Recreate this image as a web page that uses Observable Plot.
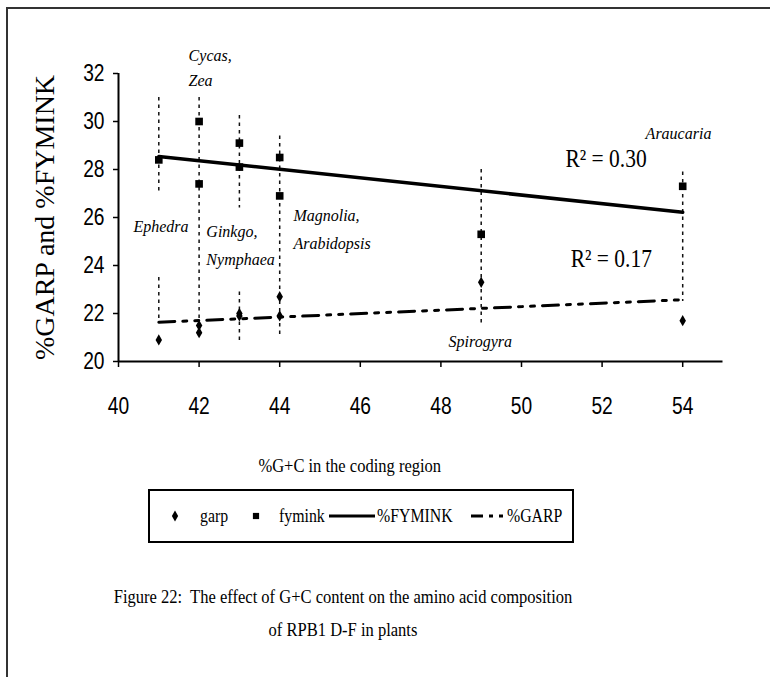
<!DOCTYPE html>
<html>
<head>
<meta charset="utf-8">
<script src="https://cdn.jsdelivr.net/npm/d3@7"></script>
<script src="https://cdn.jsdelivr.net/npm/@observablehq/plot@0.6"></script>
<style>
  body { margin: 0; background: #fff; }
  #page { position: relative; width: 770px; height: 677px; overflow: hidden;
          font-family: "Liberation Serif", "Times New Roman", serif; color: #000; }
  #frame { position: absolute; left: 6px; top: 7px; width: 800px; height: 700px;
           border-left: 2px solid #333; border-top: 2px solid #333; }
  #chart { position: absolute; left: 0; top: 0; }
  #legend { position: absolute; left: 148px; top: 489px; }
  #caption { position: absolute; left: 43px; top: 580px; width: 600px; text-align: center;
             font-size: 19px; line-height: 33px; transform: scaleX(0.87); transform-origin: 300px 0; }
</style>
</head>
<body>
<div id="page">
  <div id="frame"></div>
  <div id="chart"></div>
  <div id="legend"></div>
  <div id="caption">Figure 22:&nbsp; The effect of G+C content on the amino acid composition<br>of RPB1 D-F in plants</div>
</div>
<script>
// %G+C of the coding region for each plant, with the matching amino acid percentages
const species = ["Ephedra", "Cycas", "Zea", "Ginkgo", "Nymphaea", "Magnolia", "Arabidopsis", "Spirogyra", "Araucaria"];
const gc      = [41, 42, 42, 43, 43, 44, 44, 49, 54];
const fymink  = [28.4, 30.0, 27.4, 29.1, 28.1, 28.5, 26.9, 25.3, 27.3];
const garp    = [20.9, 21.5, 21.2, 22.0, 21.9, 22.7, 21.9, 23.3, 21.7];

const xTicks = [40, 42, 44, 46, 48, 50, 52, 54];
const yTicks = [20, 22, 24, 26, 28, 30, 32];

// dashed guides dropped through each G+C value (broken where a name sits)
const guideGC     = [41, 41, 42, 43, 43, 44, 49, 54];
const guideTop    = [31.0, 23.5, 31.0, 30.25, 22.9, 29.4, 28.0, 27.9];
const guideBottom = [27.0, 21.6, 21.1, 26.4, 20.8, 21.1, 21.6, 22.5];

// species names written beside the guides
const nameText = ["Cycas,", "Zea", "Ephedra", "Ginkgo,", "Nymphaea", "Magnolia,", "Arabidopsis", "Spirogyra", "Araucaria"];
const nameX    = [41.74, 41.74, 40.37, 42.18, 42.18, 44.34, 44.34, 48.19, 53.08];
const nameY    = [32.75, 31.7, 25.6, 25.4, 24.25, 26.05, 24.9, 20.8, 29.5];

const rows = gc.map((g, i) => ({species: species[i], gc: g, fymink: fymink[i], garp: garp[i]}));
const guides = guideGC.map((g, i) => ({gc: g, top: guideTop[i], bottom: guideBottom[i]}));
const names = nameText.map((t, i) => ({text: t, x: nameX[i], y: nameY[i]}));

// coefficient of determination of a least-squares line
function rSquared(xs, ys) {
  const mx = d3.mean(xs), my = d3.mean(ys);
  const sxy = d3.sum(xs, (x, i) => (x - mx) * (ys[i] - my));
  const sxx = d3.sum(xs, x => (x - mx) ** 2);
  const syy = d3.sum(ys, y => (y - my) ** 2);
  return (sxy * sxy) / (sxx * syy);
}
const fits = [
  {text: `R² = ${rSquared(gc, fymink).toFixed(2)}`, x: 51.09, y: 28.45},
  {text: `R² = ${rSquared(gc, garp).toFixed(2)}`,   x: 51.22, y: 24.26}
];

const serif = '"Liberation Serif", "Times New Roman", serif';
const sans = '"Liberation Sans", Arial, sans-serif';
const xTitle = "%G+C in the coding region";

const chart = Plot.plot({
  width: 770,
  height: 480,
  marginLeft: 118,
  marginRight: 47.5,
  marginTop: 73,
  marginBottom: 119,
  style: {fontFamily: serif, background: "transparent", overflow: "visible", color: "#000"},
  x: {domain: [40, 55]},
  y: {domain: [20, 32]},
  marks: [
    Plot.ruleX(guides, {x: "gc", y1: "top", y2: "bottom", stroke: "#111", strokeWidth: 1.5, strokeDasharray: "3.5,4"}),
    Plot.linearRegressionY(rows, {x: "gc", y: "fymink", stroke: "#000", strokeWidth: 3.5, ci: 0}),
    Plot.linearRegressionY(rows, {x: "gc", y: "garp", stroke: "#000", strokeWidth: 3, strokeDasharray: "16,8,4,8,4,8", ci: 0}),
    Plot.dot(rows, {x: "gc", y: "fymink", symbol: "square", r: 4.3, fill: "#000"}),
    Plot.dot(rows, {x: "gc", y: "garp", symbol: "diamond", r: 3.4, fill: "#000"}),
    Plot.axisX({ticks: xTicks, tickSize: 6, tickPadding: 29, fontSize: 24, fontFamily: sans, label: null, strokeWidth: 1.5}),
    Plot.axisY({ticks: yTicks, tickSize: 5, tickPadding: 9, fontSize: 24, fontFamily: sans, label: null, strokeWidth: 1.5}),
    Plot.ruleY([20], {stroke: "#000", strokeWidth: 2}),
    Plot.ruleX([40], {y1: 20, y2: 32, stroke: "#000", strokeWidth: 2}),
    Plot.text(names, {x: "x", y: "y", text: "text", textAnchor: "start", fontStyle: "italic", fontSize: 16}),
    Plot.text(fits, {x: "x", y: "y", text: "text", textAnchor: "start", fontSize: 25}),
    Plot.text(["%GARP and %FYMINK"], {frameAnchor: "left", dx: -73, rotate: -90, textAnchor: "middle", lineAnchor: "middle", fontSize: 28}),
    Plot.text([xTitle], {frameAnchor: "bottom", dx: -71, dy: 104, lineAnchor: "middle", fontSize: 19})
  ]
});
document.getElementById("chart").append(chart);

// narrow the glyphs of a text selection about each text's own anchor point
function squeeze(selection, sx, sy) {
  selection.each(function () {
    const t = this.getAttribute("transform");
    if (t) {
      this.setAttribute("transform", `${t} scale(${sx},${sy})`);
    } else {
      const x = +this.getAttribute("x") || 0, y = +this.getAttribute("y") || 0;
      this.setAttribute("x", x / sx);
      this.setAttribute("y", y / sy);
      this.setAttribute("transform", `scale(${sx},${sy})`);
    }
  });
}
const svg = d3.select(chart);
squeeze(svg.selectAll('g[aria-label^="x-axis"] text, g[aria-label^="y-axis"] text'), 0.8, 1);
squeeze(svg.selectAll("text").filter(function () { return this.textContent.startsWith("R²"); }), 0.86, 1);
squeeze(svg.selectAll("text").filter(function () { return this.textContent === xTitle; }), 0.87, 1);

// legend: markers and line styles with their series names
const lg = d3.select("#legend").append("svg").attr("width", 428).attr("height", 56)
  .style("font-family", serif).style("font-size", "18px");
lg.append("rect").attr("x", 1).attr("y", 1).attr("width", 424).attr("height", 52)
  .attr("fill", "none").attr("stroke", "#000").attr("stroke-width", 2);
const cy = 27;
const label = (x, s) => lg.append("text")
  .attr("transform", `translate(${x},${cy + 6}) scale(0.88,1.05)`).text(s);
lg.append("path").attr("transform", `translate(27,${cy})`)
  .attr("d", d3.symbol(d3.symbolDiamond, Math.PI * 3.3 * 3.3)());
label(52, "garp");
lg.append("path").attr("transform", `translate(108,${cy})`)
  .attr("d", d3.symbol(d3.symbolSquare, Math.PI * 3.5 * 3.5)());
label(131, "fymink");
lg.append("line").attr("x1", 181).attr("x2", 227).attr("y1", cy).attr("y2", cy)
  .attr("stroke", "#000").attr("stroke-width", 3);
label(229, "%FYMINK");
lg.append("line").attr("x1", 323).attr("x2", 357).attr("y1", cy).attr("y2", cy)
  .attr("stroke", "#000").attr("stroke-width", 3).attr("stroke-dasharray", "12,6,4,6,4");
label(359, "%GARP");
</script>
</body>
</html>
